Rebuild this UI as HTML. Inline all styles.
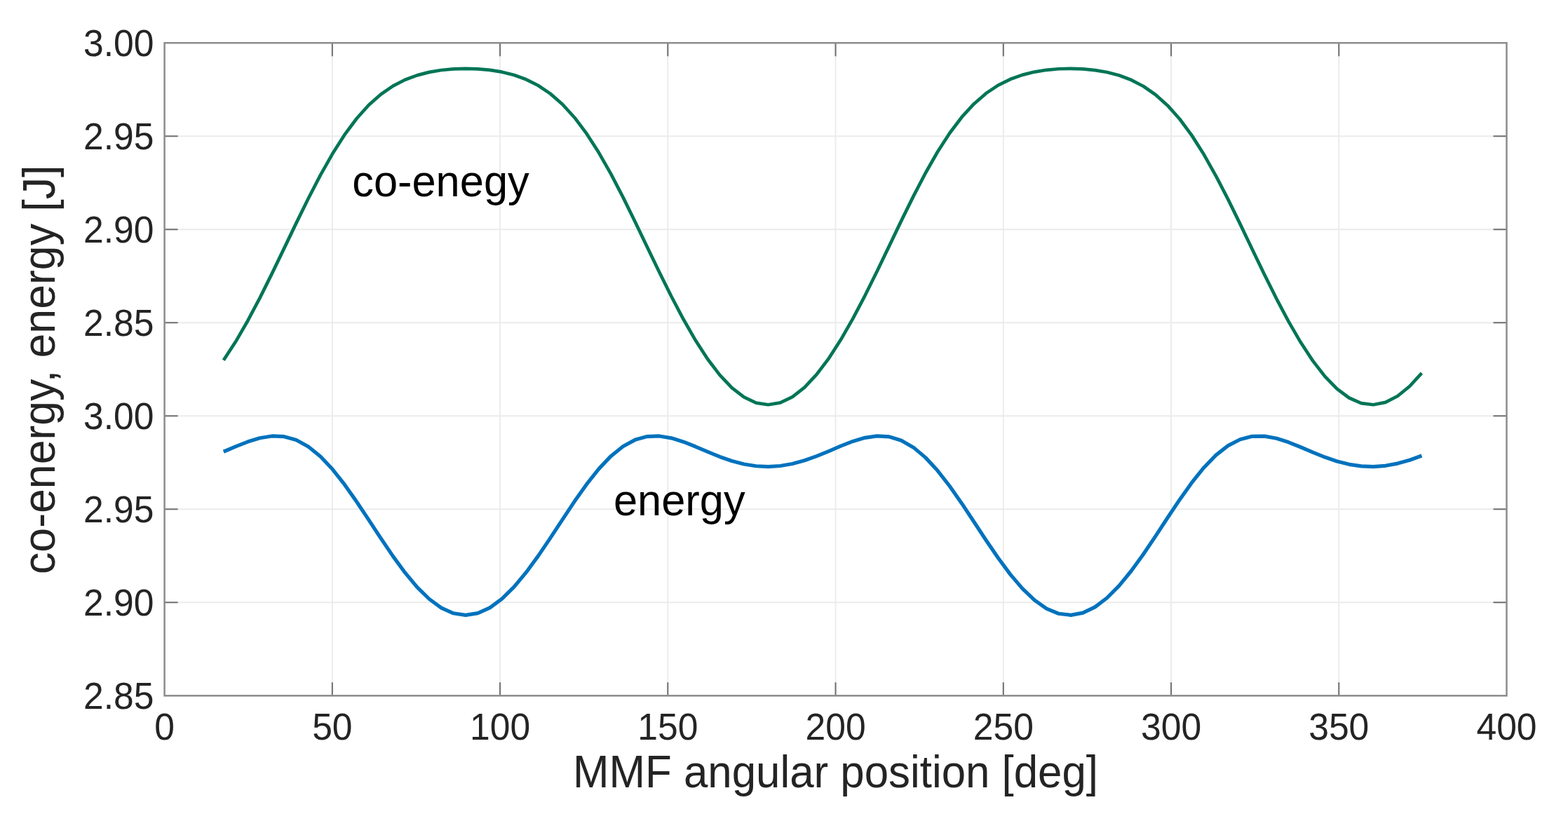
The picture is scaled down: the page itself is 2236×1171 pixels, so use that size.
<!DOCTYPE html>
<html lang="en"><head><meta charset="utf-8"><title>co-energy, energy vs MMF angular position</title>
<style>html,body{margin:0;padding:0;background:#fff}body{width:2236px;height:1171px;overflow:hidden}svg{display:block}text{font-family:"Liberation Sans",Arial,Helvetica,sans-serif}</style></head><body>
<svg xmlns="http://www.w3.org/2000/svg" width="2236" height="1171" viewBox="0 0 2236 1171">
<rect x="0" y="0" width="2236" height="1171" fill="#ffffff"/>
<path d="M473.84 61.20V992.30M713.08 61.20V992.30M952.31 61.20V992.30M1191.55 61.20V992.30M1430.79 61.20V992.30M1670.03 61.20V992.30M1909.26 61.20V992.30M234.60 194.21H2148.50M234.60 327.23H2148.50M234.60 460.24H2148.50M234.60 593.26H2148.50M234.60 726.27H2148.50M234.60 859.29H2148.50" stroke="#ebebeb" stroke-width="1.9" fill="none"/>
<path d="M473.84 992.30v-19.00M473.84 61.20v19.00M713.08 992.30v-19.00M713.08 61.20v19.00M952.31 992.30v-19.00M952.31 61.20v19.00M1191.55 992.30v-19.00M1191.55 61.20v19.00M1430.79 992.30v-19.00M1430.79 61.20v19.00M1670.03 992.30v-19.00M1670.03 61.20v19.00M1909.26 992.30v-19.00M1909.26 61.20v19.00M234.60 194.21h19.00M2148.50 194.21h-19.00M234.60 327.23h19.00M2148.50 327.23h-19.00M234.60 460.24h19.00M2148.50 460.24h-19.00M234.60 593.26h19.00M2148.50 593.26h-19.00M234.60 726.27h19.00M2148.50 726.27h-19.00M234.60 859.29h19.00M2148.50 859.29h-19.00" stroke="#707070" stroke-width="2" fill="none"/>
<rect x="234.60" y="61.20" width="1913.90" height="931.10" fill="none" stroke="#8c8c8c" stroke-width="2.5"/>
<polyline points="318.81,513.74 336.07,487.31 353.33,457.46 370.59,424.83 387.85,390.17 405.10,354.36 422.36,318.36 439.62,283.19 456.88,249.88 474.14,219.32 491.40,192.21 508.66,169.00 525.91,149.80 543.17,134.46 560.43,122.62 577.69,113.76 594.95,107.36 612.21,102.90 629.47,100.00 646.72,98.36 663.98,97.81 681.24,98.29 698.50,99.86 715.76,102.69 733.02,107.03 750.28,113.31 767.54,122.00 784.79,133.64 802.05,148.75 819.31,167.71 836.57,190.68 853.83,217.56 871.09,247.92 888.35,281.10 905.60,316.18 922.86,352.16 940.12,388.01 957.38,422.76 974.64,455.54 991.90,485.59 1009.16,512.24 1026.41,534.93 1043.67,553.15 1060.93,566.48 1078.19,574.58 1095.45,577.24 1112.71,574.38 1129.97,566.09 1147.22,552.58 1164.48,534.19 1181.74,511.35 1199.00,484.56 1216.26,454.40 1233.52,421.54 1250.78,386.73 1268.03,350.86 1285.29,314.89 1302.55,279.86 1319.81,246.78 1337.07,216.53 1354.33,189.79 1371.59,166.96 1388.84,148.15 1406.10,133.17 1423.36,121.64 1440.62,113.04 1457.88,106.85 1475.14,102.56 1492.40,99.79 1509.65,98.26 1526.91,97.81 1544.17,98.40 1561.43,100.08 1578.69,103.03 1595.95,107.55 1613.21,114.04 1630.46,122.99 1647.72,134.95 1664.98,150.42 1682.24,169.76 1699.50,193.12 1716.76,220.36 1734.02,251.03 1751.27,284.43 1768.53,319.65 1785.79,355.66 1803.05,391.45 1820.31,426.04 1837.57,458.59 1854.83,488.33 1872.08,514.62 1889.34,536.90 1906.60,554.67 1923.86,567.50 1941.12,575.08 1958.38,577.21 1975.64,573.82 1992.90,565.00 2010.15,551.00 2027.41,532.16" fill="none" stroke="#007556" stroke-width="4.7" stroke-linejoin="round" stroke-linecap="butt"/>
<polyline points="318.81,644.25 336.07,636.88 353.33,630.05 370.59,624.73 387.85,621.95 405.10,622.63 422.36,627.51 439.62,636.96 456.88,651.02 474.14,669.33 491.40,691.20 508.66,715.67 525.91,741.65 543.17,767.94 560.43,793.40 577.69,816.94 594.95,837.58 612.21,854.51 629.47,867.08 646.72,874.79 663.98,877.35 681.24,874.67 698.50,866.85 715.76,854.18 733.02,837.16 750.28,816.44 767.54,792.85 784.79,767.36 802.05,741.06 819.31,715.11 836.57,690.68 853.83,668.88 871.09,650.66 888.35,636.70 905.60,627.35 922.86,622.58 940.12,621.97 957.38,624.82 974.64,630.18 991.90,637.04 1009.16,644.41 1026.41,651.43 1043.67,657.43 1060.93,661.96 1078.19,664.73 1095.45,665.59 1112.71,664.50 1129.97,661.51 1147.22,656.79 1164.48,650.63 1181.74,643.53 1199.00,636.18 1216.26,629.45 1233.52,624.33 1250.78,621.85 1268.03,622.91 1285.29,628.22 1302.55,638.13 1319.81,652.62 1337.07,671.31 1354.33,693.48 1371.59,718.15 1388.84,744.20 1406.10,770.47 1423.36,795.78 1440.62,819.08 1457.88,839.40 1475.14,855.93 1492.40,868.04 1509.65,875.26 1526.91,877.32 1544.17,874.13 1561.43,865.82 1578.69,852.71 1595.95,835.30 1613.21,814.26 1630.46,790.45 1647.72,764.83 1664.98,738.51 1682.24,712.66 1699.50,688.44 1716.76,666.95 1734.02,649.11 1751.27,635.59 1768.53,626.69 1785.79,622.34 1803.05,622.11 1820.31,625.25 1837.57,630.80 1854.83,637.75 1872.08,645.12 1889.34,652.06 1906.60,657.94 1923.86,662.31 1941.12,664.90 1958.38,665.57 1975.64,664.29 1992.90,661.12 2010.15,656.25 2027.41,649.98" fill="none" stroke="#0072bd" stroke-width="5.2" stroke-linejoin="round" stroke-linecap="butt"/>
<text transform="translate(219.50 79.70) scale(0.993 1.035)" font-size="52" fill="#242424" text-anchor="end">3.00</text>
<text transform="translate(219.50 212.71) scale(0.993 1.035)" font-size="52" fill="#242424" text-anchor="end">2.95</text>
<text transform="translate(219.50 345.73) scale(0.993 1.035)" font-size="52" fill="#242424" text-anchor="end">2.90</text>
<text transform="translate(219.50 478.74) scale(0.993 1.035)" font-size="52" fill="#242424" text-anchor="end">2.85</text>
<text transform="translate(219.50 611.76) scale(0.993 1.035)" font-size="52" fill="#242424" text-anchor="end">3.00</text>
<text transform="translate(219.50 744.77) scale(0.993 1.035)" font-size="52" fill="#242424" text-anchor="end">2.95</text>
<text transform="translate(219.50 877.79) scale(0.993 1.035)" font-size="52" fill="#242424" text-anchor="end">2.90</text>
<text transform="translate(219.50 1010.80) scale(0.993 1.035)" font-size="52" fill="#242424" text-anchor="end">2.85</text>
<text transform="translate(234.60 1054.60) scale(0.993 1.035)" font-size="52" fill="#242424" text-anchor="middle">0</text>
<text transform="translate(473.84 1054.60) scale(0.993 1.035)" font-size="52" fill="#242424" text-anchor="middle">50</text>
<text transform="translate(713.08 1054.60) scale(0.993 1.035)" font-size="52" fill="#242424" text-anchor="middle">100</text>
<text transform="translate(952.31 1054.60) scale(0.993 1.035)" font-size="52" fill="#242424" text-anchor="middle">150</text>
<text transform="translate(1191.55 1054.60) scale(0.993 1.035)" font-size="52" fill="#242424" text-anchor="middle">200</text>
<text transform="translate(1430.79 1054.60) scale(0.993 1.035)" font-size="52" fill="#242424" text-anchor="middle">250</text>
<text transform="translate(1670.03 1054.60) scale(0.993 1.035)" font-size="52" fill="#242424" text-anchor="middle">300</text>
<text transform="translate(1909.26 1054.60) scale(0.993 1.035)" font-size="52" fill="#242424" text-anchor="middle">350</text>
<text transform="translate(2148.50 1054.60) scale(0.993 1.035)" font-size="52" fill="#242424" text-anchor="middle">400</text>
<text transform="translate(1191.55 1123.30) scale(0.997 1.035)" font-size="62" fill="#242424" text-anchor="middle">MMF angular position [deg]</text>
<text transform="translate(78.00 527.25) rotate(-90) scale(1.01 1.035)" font-size="62" fill="#242424" text-anchor="middle">co-energy, energy [J]</text>
<text transform="translate(502.20 280.00) scale(0.9905 1.025)" font-size="62" fill="#000000">co-enegy</text>
<text transform="translate(874.90 735.10) scale(0.9905 1.025)" font-size="62" fill="#000000">energy</text>
</svg></body></html>
